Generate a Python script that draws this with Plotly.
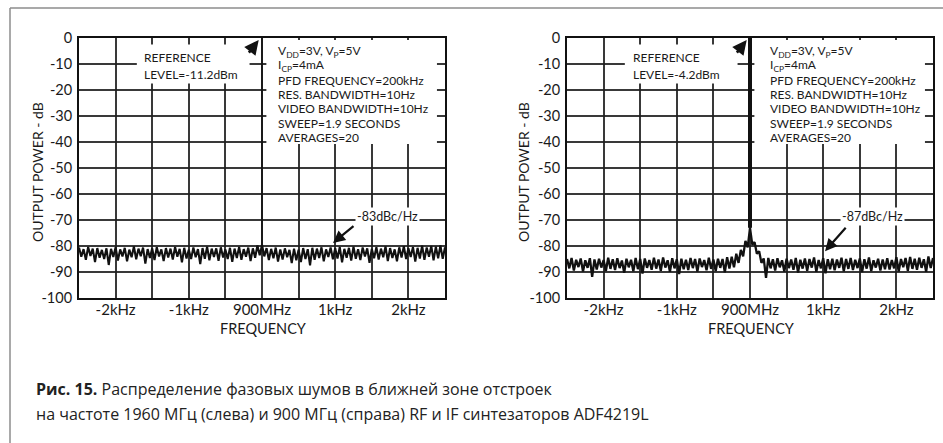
import plotly.graph_objects as go
import numpy as np

# ---------------- data ----------------
left_noise = [
    -80.6, -84.1, -81.2, -85.3, -80.4, -83.8, -81.0, -86.2, -80.8, -84.5, -81.5, -85.0, -80.9, -87.3, -81.1, -84.2, -80.5, -85.6, -81.3, -84.0,
    -80.7, -85.9, -81.4, -84.3, -80.2, -85.1, -81.0, -83.9, -80.6, -86.8, -81.2, -84.6, -80.9, -85.4, -80.5, -84.0, -81.3, -85.8, -80.8, -84.4,
    -81.0, -85.2, -80.4, -84.1, -81.1, -86.3, -80.7, -84.8, -81.4, -85.0, -80.6, -84.3, -81.2, -87.0, -80.8, -84.9, -80.3, -85.5, -81.0, -84.2,
    -80.9, -85.7, -80.5, -84.4, -81.3, -85.0, -80.7, -86.1, -81.0, -84.6, -80.4, -85.3, -81.2, -84.1, -80.6, -85.8, -80.9, -84.5, -79.8, -83.6,
    -79.5, -84.0, -80.8, -85.4, -81.1, -84.7, -80.6, -86.0, -81.3, -85.2, -80.9, -84.3, -81.5, -86.6, -81.0, -85.5, -81.4, -86.2, -80.8, -85.0,
    -81.2, -87.4, -80.7, -85.3, -81.0, -84.6, -80.5, -85.9, -81.3, -84.2, -80.6, -85.1, -80.9, -84.8, -80.4, -86.3, -81.1, -84.5, -80.7, -85.6,
    -80.3, -84.9, -81.2, -85.4, -80.6, -84.0, -80.9, -86.5, -81.1, -84.7, -80.5, -85.2, -81.0, -84.3, -80.2, -85.8, -80.8, -84.6, -81.3, -85.9,
    -80.5, -84.4, -80.1, -85.0, -80.9, -84.2, -80.4, -86.0, -80.7, -84.8, -79.9, -85.3, -80.6, -84.1, -80.0, -85.5, -80.3, -84.7, -79.8, -84.9, -80.5,
]
right_noise = [
    -85.0, -88.6, -84.6, -89.4, -85.3, -88.1, -84.8, -89.8, -85.5, -88.4, -84.7, -91.9, -85.2, -89.0, -84.9, -88.3, -85.4, -89.6, -84.5, -88.8,
    -85.1, -89.2, -84.7, -88.5, -85.6, -90.3, -84.9, -88.2, -85.3, -89.7, -84.6, -88.9, -85.0, -90.6, -84.8, -88.4, -85.4, -89.1, -84.5, -88.7,
    -85.2, -89.5, -84.4, -88.3, -85.5, -89.9, -84.7, -88.6, -85.1, -90.8, -84.9, -88.9, -85.3, -89.2, -84.6, -88.5, -85.0, -89.8, -84.8, -88.1,
    -85.4, -89.3, -84.5, -88.8, -85.2, -89.6, -84.9, -88.4, -85.0, -90.1, -84.3, -88.7, -84.1, -88.2, -83.0, -86.5, -81.5, -84.0, -78.0, -80.5,
    -73.0, -79.5, -78.5, -83.0, -82.0, -86.5, -84.8, -92.3, -84.6, -88.6, -85.1, -89.4, -84.7, -88.2, -85.5, -89.8, -84.9, -88.5, -85.2, -89.1,
    -84.6, -90.2, -85.3, -88.7, -84.8, -89.5, -85.0, -88.3, -84.4, -89.9, -85.4, -88.6, -84.7, -90.5, -85.1, -88.9, -84.9, -89.3, -85.2, -88.4,
    -84.5, -89.7, -85.0, -88.8, -84.6, -89.2, -85.3, -88.5, -84.8, -90.0, -85.1, -88.7, -84.4, -89.6, -85.5, -88.3, -84.9, -89.4, -85.2, -88.9,
    -84.7, -89.0, -85.4, -88.6, -84.3, -89.8, -85.0, -88.2, -84.6, -89.5, -84.2, -88.8, -84.9, -89.1, -84.5, -88.4, -85.1, -89.9, -84.0, -88.5, -84.6,
]
half_span_hz = 2500
carrier_offset_hz = 0
carrier_level_db = 0
left_carrier_base_db = -79.5
right_carrier_base_db = -73.0

x_tick_vals = [-2000, -1500, -1000, -500, 0, 500, 1000, 1500, 2000]
x_tick_text = ["-2kHz", "", "-1kHz", "", "900MHz", "", "1kHz", "", "2kHz"]
y_tick_vals = [0, -10, -20, -30, -40, -50, -60, -70, -80, -90, -100]
y_tick_text = ["0", "-10", "-20", "-30", "-40", "-50", "-60", "-70", "-80", "-90", "-100"]

params_lines = [
    "V<sub>DD</sub>=3V, V<sub>P</sub>=5V",
    "I<sub>CP</sub>=4mA",
    "PFD FREQUENCY=200kHz",
    "RES. BANDWIDTH=10Hz",
    "VIDEO BANDWIDTH=10Hz",
    "SWEEP=1.9 SECONDS",
    "AVERAGES=20",
]
left_ref = ["REFERENCE", "LEVEL=-11.2dBm"]
right_ref = ["REFERENCE", "LEVEL=-4.2dBm"]
left_floor_label = "-83dBc/Hz"
right_floor_label = "-87dBc/Hz"
caption_bold = "Рис. 15."
caption_line1 = " Распределение фазовых шумов в ближней зоне отстроек"
caption_line2 = "на частоте 1960 МГц (слева) и 900 МГц (справа) RF и IF синтезаторов ADF4219L"

# ---------------- figure ----------------
W, H = 943, 443
FONT = "Lato"
INK = "#1a1a1a"


def px_x(p):
    return p / W


def px_y(p):
    return 1 - p / H


left_f = np.linspace(-half_span_hz, half_span_hz, len(left_noise))
right_f = np.linspace(-half_span_hz, half_span_hz, len(right_noise))

fig = go.Figure()
fig.add_trace(go.Scatter(x=left_f, y=left_noise, mode="lines",
                         line=dict(color="#111", width=2.1), xaxis="x", yaxis="y"))
fig.add_trace(go.Scatter(x=[carrier_offset_hz, carrier_offset_hz], y=[left_carrier_base_db, carrier_level_db],
                         mode="lines", line=dict(color="#111", width=1.5), xaxis="x", yaxis="y"))
fig.add_trace(go.Scatter(x=right_f, y=right_noise, mode="lines",
                         line=dict(color="#111", width=2.3), xaxis="x2", yaxis="y2"))
fig.add_trace(go.Scatter(x=[carrier_offset_hz, carrier_offset_hz], y=[right_carrier_base_db, carrier_level_db],
                         mode="lines", line=dict(color="#111", width=4), xaxis="x2", yaxis="y2"))

ydom = [px_y(298), px_y(38)]
GRID = "rgba(30,30,30,0.88)"
common_x = dict(range=[-half_span_hz, half_span_hz], tickvals=x_tick_vals, ticktext=x_tick_text,
                showgrid=True, gridcolor=GRID, gridwidth=2, zeroline=False, automargin=False,
                showline=True, linecolor="#111", linewidth=2, mirror=True, ticks="",
                ticklabelstandoff=-3,
                tickfont=dict(family=FONT, size=15, color=INK), fixedrange=True)
common_y = dict(range=[-100, 0], tickvals=y_tick_vals, ticktext=y_tick_text, domain=ydom,
                showgrid=True, gridcolor=GRID, gridwidth=2, zeroline=False, automargin=False,
                showline=True, linecolor="#111", linewidth=2, mirror=True, ticks="",
                ticklabelstandoff=2,
                tickfont=dict(family=FONT, size=14.5, color=INK), fixedrange=True)

fig.update_layout(
    width=W, height=H, margin=dict(l=0, r=0, t=0, b=0, pad=0, autoexpand=False),
    paper_bgcolor="white", plot_bgcolor="white", showlegend=False,
    xaxis=dict(domain=[px_x(79), px_x(445)], anchor="y", **common_x),
    yaxis=dict(anchor="x", **common_y),
    xaxis2=dict(domain=[px_x(567), px_x(933)], anchor="y2", **common_x),
    yaxis2=dict(anchor="x2", **common_y),
)

shapes = []
# white boxes behind the text blocks
for xr, yr in (("x", "y"), ("x2", "y2")):
    shapes.append(dict(type="rect", xref=xr, yref=yr, x0=60, x1=2390, y0=-0.8, y1=-40.8,
                       fillcolor="white", line=dict(width=0), layer="above"))
    shapes.append(dict(type="rect", xref=xr, yref=yr, x0=-1710, x1=-170, y0=-2.5, y1=-17.5,
                       fillcolor="white", line=dict(width=0), layer="above"))
# page frame
shapes.append(dict(type="line", xref="paper", yref="paper", x0=px_x(10), x1=px_x(10), y0=px_y(8), y1=0,
                   line=dict(color="#8c8c8c", width=1.5)))
shapes.append(dict(type="line", xref="paper", yref="paper", x0=px_x(10), x1=1, y0=px_y(8), y1=px_y(8),
                   line=dict(color="#8c8c8c", width=1.5)))
fig.update_layout(shapes=shapes)

ann = []
pfont = dict(family=FONT, size=12, color=INK)
rfont = dict(family=FONT, size=12, color=INK)
for xr, yr, xs, refs, ref_x in (("x", "y", 205, left_ref, -1626), ("x2", "y2", 260, right_ref, -1612)):
    for i, line in enumerate(params_lines):
        ann.append(dict(xref=xr, yref=yr, x=xs, y=-5.2 - 5.5 * i, text=line, showarrow=False,
                        xanchor="left", yanchor="middle", borderpad=0, font=pfont))
    for i, line in enumerate(refs):
        ann.append(dict(xref=xr, yref=yr, x=ref_x, y=-7.6 - 6.5 * i, text=line, showarrow=False,
                        xanchor="left", yanchor="middle", borderpad=0, font=rfont))
    # carrier arrow
    ann.append(dict(xref=xr, yref=yr, x=-45, y=-0.8, ax=-11, ay=14, text="", showarrow=True,
                    arrowhead=2, arrowsize=1.1, arrowwidth=2.6, arrowcolor="#111"))
    ann.append(dict(xref="paper", yref="paper", x=px_x(37 if xr == "x" else 523), y=px_y(172),
                    xanchor="center", yanchor="middle",
                    text="OUTPUT POWER - dB", textangle=-90, showarrow=False,
                    font=dict(family=FONT, size=14, color=INK)))
    ann.append(dict(xref="paper", yref="paper", x=px_x(263 if xr == "x" else 751), y=px_y(328),
                    xanchor="center", yanchor="middle",
                    text="FREQUENCY", showarrow=False, font=dict(family=FONT, size=14.5, color=INK)))

# noise-floor labels and arrows
ann.append(dict(xref="x", yref="y", x=1708, y=-68.8, text=left_floor_label, showarrow=False,
                xanchor="center", yanchor="middle",
                bgcolor="white", font=dict(family=FONT, size=12.5, color=INK)))
ann.append(dict(xref="x", yref="y", x=970, y=-78.8, ax=22, ay=-18, text="", showarrow=True,
                arrowhead=2, arrowsize=1.1, arrowwidth=2.2, arrowcolor="#111"))
ann.append(dict(xref="x2", yref="y2", x=1667, y=-68.6, text=right_floor_label, showarrow=False,
                xanchor="center", yanchor="middle",
                bgcolor="white", font=dict(family=FONT, size=12.5, color=INK)))
ann.append(dict(xref="x2", yref="y2", x=1025, y=-82.0, ax=22, ay=-25, text="", showarrow=True,
                arrowhead=2, arrowsize=1.1, arrowwidth=2.2, arrowcolor="#111"))

# caption
cfont = dict(family="Open Sans", size=16, color="#222")
ann.append(dict(xref="paper", yref="paper", x=px_x(34), y=px_y(389), xanchor="left", yanchor="middle",
                text="<b>" + caption_bold + "</b>" + caption_line1, showarrow=False, font=cfont))
ann.append(dict(xref="paper", yref="paper", x=px_x(34), y=px_y(414), xanchor="left", yanchor="middle",
                text=caption_line2, showarrow=False, font=cfont))
fig.update_layout(annotations=ann)

fig.write_html("out.html", config={"displayModeBar": False},
               post_script="document.body.style.margin='0';")
